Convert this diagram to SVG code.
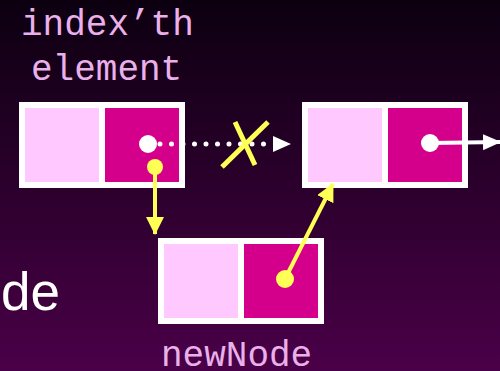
<svg xmlns="http://www.w3.org/2000/svg" width="500" height="371" viewBox="0 0 500 371">
<defs>
<linearGradient id="bg" x1="0" y1="0" x2="0" y2="1">
<stop offset="0" stop-color="#0c0010"/>
<stop offset="1" stop-color="#4a0048"/>
</linearGradient>
<marker id="wh" markerWidth="18" markerHeight="16" refX="17" refY="8" orient="auto" markerUnits="userSpaceOnUse"><path d="M0,0 L18,8 L0,16 Z" fill="#fff"/></marker>
<marker id="yh" markerWidth="18" markerHeight="18" refX="17" refY="9" orient="auto" markerUnits="userSpaceOnUse"><path d="M0,0 L18,9 L0,18 Z" fill="#ffff55"/></marker>
<style>
.data{fill:#ffc8ff;stroke:#fff;stroke-width:6}
.next{fill:#d4008c;stroke:#fff;stroke-width:6}
.mono{font-family:"Liberation Mono","Courier New",monospace;font-size:36px;fill:#eab0ea}
.y{stroke:#ffff55;stroke-width:4;fill:none}
</style>
</defs>
<rect width="500" height="371" fill="url(#bg)"/>
<text x="1" y="310" font-family="Liberation Sans, Arial, sans-serif" font-size="53" fill="#fff">de</text>
<text class="mono" x="21" y="35">index’th</text>
<text class="mono" x="31" y="80">element</text>
<text class="mono" x="161" y="366">newNode</text>
<g id="node1">
<rect class="data" x="22" y="105" width="80" height="80"/>
<rect class="next" x="102" y="105" width="80" height="80"/>
</g>
<g id="node2">
<rect class="data" x="305" y="105" width="80" height="80"/>
<rect class="next" x="385" y="105" width="80" height="80"/>
</g>
<g id="newNode">
<rect class="data" x="161" y="241" width="80" height="80"/>
<rect class="next" x="241" y="241" width="80" height="80"/>
</g>
<g id="connectors">
<line x1="160" y1="144" x2="272" y2="144" stroke="#fff" stroke-width="5" stroke-linecap="round" stroke-dasharray="0 11.5"/>
<path d="M273,136 L291,144 L273,152 Z" fill="#fff"/>
<circle cx="148" cy="144" r="9" fill="#fff"/>
<line x1="430" y1="143" x2="500" y2="142" stroke="#fff" stroke-width="4" marker-end="url(#wh)"/>
<circle cx="430" cy="143" r="9" fill="#fff"/>
<line x1="235" y1="122" x2="255" y2="165" stroke="#ffff55" stroke-width="5"/>
<line x1="268" y1="122" x2="222" y2="167" stroke="#ffff55" stroke-width="5"/>
<line class="y" x1="155" y1="167" x2="155" y2="234" marker-end="url(#yh)"/>
<circle cx="155" cy="167" r="8" fill="#ffff55"/>
<line class="y" x1="285" y1="279" x2="333" y2="184" marker-end="url(#yh)"/>
<circle cx="285" cy="279" r="9" fill="#ffff55"/>
</g>
</svg>
